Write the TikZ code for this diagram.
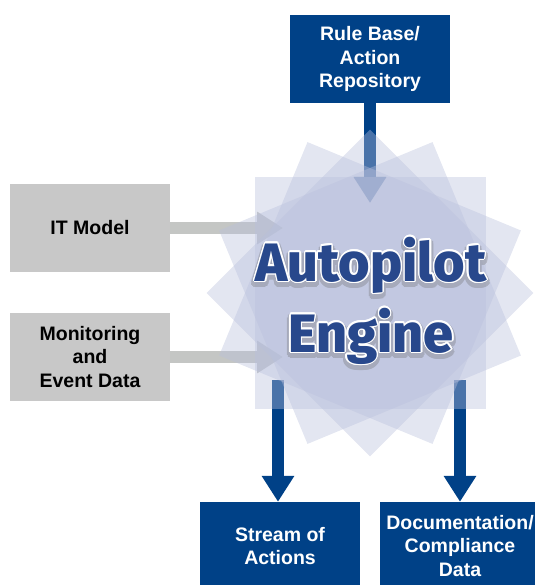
\documentclass[tikz,border=0pt]{standalone}
\usepackage{fontspec}
\setmainfont{Liberation Sans}
\newfontfamily\enginefont{Fira Sans ExtraBold}
\usepackage{contour}
\contourlength{1.4pt}
\usetikzlibrary{arrows.meta}

\definecolor{boxblue}{RGB}{0,65,135}
\definecolor{boxgrey}{RGB}{200,200,200}
\definecolor{arrowgrey}{RGB}{196,198,196}
\definecolor{starfill}{RGB}{185,192,220}
\definecolor{engineblue}{RGB}{40,72,140}

\tikzset{
  bluebox/.style={fill=boxblue, text=white, font=\bfseries\fontsize{19.5bp}{23.5bp}\selectfont,
    minimum width=160bp, minimum height=88bp, inner sep=0pt, align=center},
  greybox/.style={bluebox, fill=boxgrey, text=black},
  bigarrow/.style={line width=12bp, -{Triangle[width=31bp,length=26bp]}},
  starlayer/.style={fill=starfill, fill opacity=0.4, minimum size=231bp, inner sep=0pt},
  enginetext/.style={font=\enginefont\fontsize{54bp}{71bp}\selectfont,
    text=engineblue, inner sep=0pt, anchor=base}
}

\begin{document}
\begin{tikzpicture}[x=1bp,y=-1bp]
\useasboundingbox (0,0) rectangle (535,585);
\clip (0,0) rectangle (535,585);
\coordinate (engine) at (370,293);

% boxes
\node[bluebox] (rule) at (370,59) {Rule Base/\\Action\\Repository};
\node[greybox] (itmodel) at (90,228) {IT Model};
\node[greybox] (monitor) at (90,357) {Monitoring\\and\\Event Data};
\node[bluebox] (stream) at (280,546) {Stream of\\Actions};
\node[bluebox] (doc) at (460,546) {Documentation/\\Compliance\\Data};

% arrows in and out
\coordinate (ruletip) at (370,203);
\coordinate (ittip) at (283,228);
\coordinate (montip) at (283,357);
\coordinate (streamout) at (278,380);
\coordinate (docout) at (460,380);
\draw[bigarrow, boxblue] (rule) -- (ruletip);
\draw[bigarrow, arrowgrey] (itmodel) -- (ittip);
\draw[bigarrow, arrowgrey] (monitor) -- (montip);
\draw[bigarrow, boxblue] (streamout) -- (streamout |- stream.north);
\draw[bigarrow, boxblue] (docout) -- (doc);

% starburst
\foreach \a in {0,22.5,45,67.5}
  \node[starlayer, rotate=\a] at (engine) {};

% engine title
\begin{scope}[transparency group, opacity=0.3]
  \node[enginetext, text=black!60] at (371,284) {\contourlength{3.5pt}\contour{black!60}{Autopilot}};
  \node[enginetext, text=black!60] at (371,355) {\contourlength{3.5pt}\contour{black!60}{Engine}};
\end{scope}
\node[enginetext] (autopilot) at (371,281) {\contour{white}{Autopilot}};
\node[enginetext] (enginename) at (371,352) {\contour{white}{Engine}};
\end{tikzpicture}
\end{document}
